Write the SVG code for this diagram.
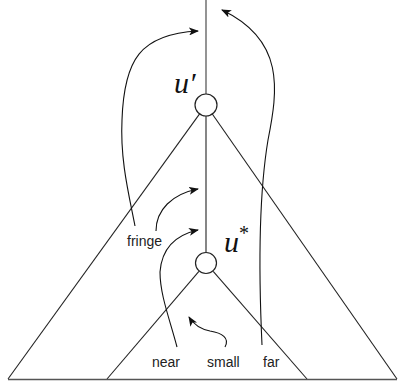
<svg xmlns="http://www.w3.org/2000/svg" width="398" height="385" viewBox="0 0 398 385">
<defs>
<marker id="ah" markerWidth="10" markerHeight="8" refX="9" refY="4" orient="auto" markerUnits="userSpaceOnUse">
<path d="M0,0 L10,4 L0,8 L2.5,4 Z" fill="#111"/>
</marker>
<style>
.ln{stroke:#222;stroke-width:1.1;fill:none}
.cv{stroke:#111;stroke-width:1.1;fill:none;marker-end:url(#ah)}
.nd{fill:#fff;stroke:#222;stroke-width:1.2}
.lb{font-family:"Liberation Sans",Arial,sans-serif;font-size:14px;fill:#222}
.mt{font-family:"Liberation Serif","Times New Roman",serif;font-style:italic;font-size:30px;fill:#111}
</style>
</defs>
<g id="connectors">
<line class="ln" x1="206" y1="0" x2="206" y2="94" style="stroke:#666;stroke-width:1.4"/>
<line class="ln" x1="206" y1="116" x2="206" y2="252"/>
<line class="ln" x1="199.6" y1="113.9" x2="8" y2="379"/>
<line class="ln" x1="212.3" y1="114" x2="397" y2="379"/>
<line class="ln" x1="198.9" y1="271.4" x2="107" y2="379"/>
<line class="ln" x1="213.2" y1="271.3" x2="307" y2="379"/>
<line x1="8" y1="379.5" x2="397" y2="379.5" stroke="#555" stroke-width="1.6"/>
<path class="cv" d="M135,226 C129,195 120,160 122,120 C124,60 140,34 198,31"/>
<path class="cv" d="M262,345 C259,280 258,200 268,140 C278,90 285,40 222,10"/>
<path class="cv" d="M156,231 C156,210 172,194 198,189"/>
<path class="cv" d="M177,347 C170,320 160,295 160,272 C162,245 180,234 198,230"/>
<path class="cv" d="M225,347 C230,338 222,333 210,331 C200,329 194,325 189,317"/>
</g>
<g id="u-prime">
<circle class="nd" cx="206" cy="105" r="11"/>
<text class="mt" x="174" y="93">u′</text>
</g>
<g id="u-star">
<circle class="nd" cx="206" cy="263" r="10.5"/>
<text class="mt" x="224" y="252">u<tspan font-style="normal" font-size="20" dy="-12">*</tspan></text>
</g>
<g id="fringe"><text class="lb" x="127" y="246">fringe</text></g>
<g id="near"><text class="lb" x="152" y="367">near</text></g>
<g id="small"><text class="lb" x="207" y="367">small</text></g>
<g id="far"><text class="lb" x="263" y="367">far</text></g>
</svg>
